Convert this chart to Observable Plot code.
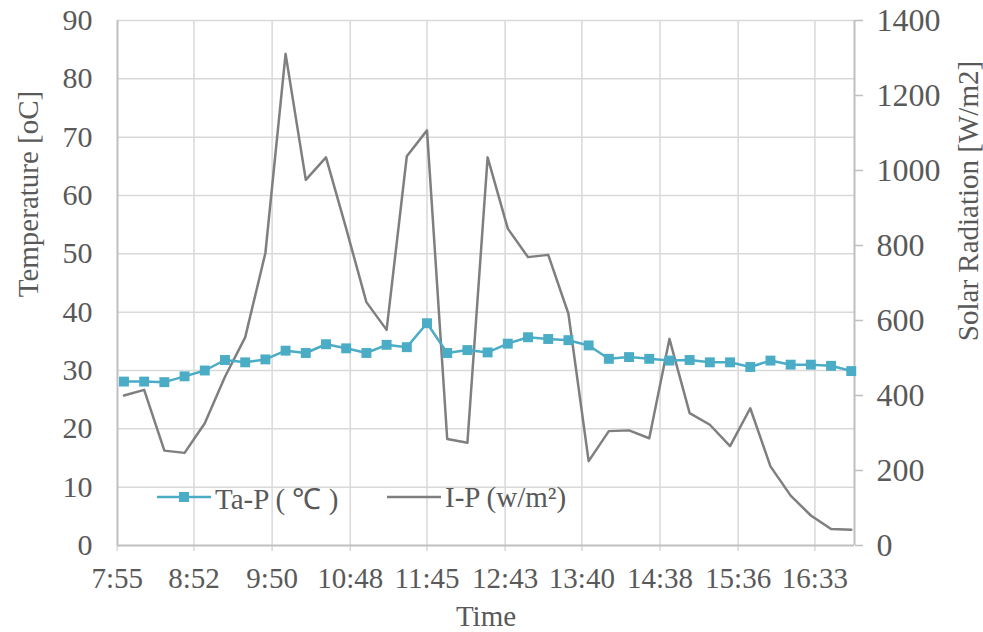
<!DOCTYPE html>
<html><head><meta charset="utf-8">
<script src="https://cdn.jsdelivr.net/npm/d3@7"></script>
<script src="https://cdn.jsdelivr.net/npm/@observablehq/plot@0.6"></script>
<style>
body{margin:0;background:#fff;}
#wrap{position:relative;width:983px;height:632px;overflow:hidden;}
#legend{position:absolute;left:0;top:0;font-family:"Liberation Serif",serif;color:#595959;font-size:29px;}
.item{position:absolute;display:flex;align-items:center;height:40px;white-space:nowrap;}
.item svg{display:block;}
</style></head><body>
<div id="wrap"><div id="chart"></div><div id="legend"></div></div>
<script>
// ---- data ----
const times = ["8:00","8:15","8:30","8:45","9:00","9:15","9:30","9:45","10:00","10:15","10:30","10:45","11:00","11:15","11:30","11:45","12:00","12:15","12:30","12:45","13:00","13:15","13:30","13:45","14:00","14:15","14:30","14:45","15:00","15:15","15:30","15:45","16:00","16:15","16:30","16:45","17:00"];
const taP = [28.1,28.1,28.0,29.0,30.0,31.8,31.4,31.9,33.4,33.0,34.5,33.8,33.0,34.4,34.0,38.1,33.0,33.5,33.1,34.6,35.7,35.4,35.2,34.3,32.0,32.3,32.0,31.7,31.8,31.4,31.4,30.6,31.7,31.0,31.0,30.8,29.9];
const ipP = [400,415,253,247,326,450,555,780,1311,975,1035,845,649,575,1038,1107,284,274,1035,845,769,775,618,225,305,307,286,551,353,322,265,366,211,133,80,44,42];
const xTickLabels = ["7:55","8:52","9:50","10:48","11:45","12:43","13:40","14:38","15:36","16:33"];
const leftTicks = [0,10,20,30,40,50,60,70,80,90];
const rightTicks = [0,200,400,600,800,1000,1200,1400];
const seriesNames = ["Ta-P ( ℃ )", "I-P (w/m²)"];

// ---- helpers ----
const toMin = s => { const [h, m] = s.split(":").map(Number); return h * 60 + m; };
const rows = times.map((t, i) => ({t: toMin(t), ta: taP[i], ip: ipP[i]}));
const xTickVals = xTickLabels.map(toMin);
const labelOf = new Map(xTickVals.map((v, i) => [v, xTickLabels[i]]));
const xDomain = [475.2, 1022.4];
const y2 = d3.scaleLinear([0, 1400], [0, 90]);

const TA = "#4BACC6", IP = "#7F7F7F", GRID = "#D9D9D9", AXIS = "#BFBFBF";

const chart = Plot.plot({
  width: 983, height: 632,
  marginLeft: 117, marginRight: 129, marginTop: 20, marginBottom: 87,
  style: {fontFamily: "Liberation Serif, serif", color: "#595959", background: "#fff"},
  x: {type: "linear", domain: xDomain},
  y: {domain: [0, 90]},
  marks: [
    Plot.gridY(leftTicks.slice(1), {stroke: GRID, strokeOpacity: 1, strokeWidth: 1.5}),
    Plot.gridX(xTickVals.slice(1), {stroke: GRID, strokeOpacity: 1, strokeWidth: 1.5}),
    Plot.axisX(xTickVals, {tickSize: 6, tickPadding: 16, stroke: GRID, strokeWidth: 1.5, fontSize: 29, tickFormat: d => labelOf.get(d), label: null}),
    Plot.axisY(leftTicks, {anchor: "left", tickSize: 0, tickPadding: 25, fontSize: 30, label: null}),
    Plot.axisY(rightTicks, {anchor: "right", y: d => y2(d), tickSize: 8, tickPadding: 14, stroke: AXIS, strokeWidth: 1.5, fontSize: 32, tickFormat: d => String(d), label: null}),
    Plot.ruleY([0], {stroke: AXIS, strokeWidth: 2}),
    Plot.ruleX(xDomain, {stroke: AXIS, strokeWidth: 2}),
    Plot.line(rows, {x: "t", y: d => y2(d.ip), stroke: IP, strokeWidth: 2.5}),
    Plot.line(rows, {x: "t", y: "ta", stroke: TA, strokeWidth: 2.5}),
    Plot.dot(rows, {x: "t", y: "ta", symbol: "square", r: 5.6, fill: TA, stroke: "none"}),
    Plot.text(["Time"], {frameAnchor: "bottom", dy: 71, fontSize: 29, lineAnchor: "middle", textAnchor: "middle"}),
    Plot.text(["Temperature [oC]"], {frameAnchor: "left", rotate: -90, dx: -89, dy: -89, fontSize: 29, lineAnchor: "middle", textAnchor: "middle"}),
    Plot.text(["Solar Radiation [W/m2]"], {frameAnchor: "right", rotate: -90, dx: 114, dy: -82, fontSize: 29, lineAnchor: "middle", textAnchor: "middle"})
  ]
});
document.getElementById("chart").appendChild(chart);

// ---- legend (inside plot area) ----
const legend = document.getElementById("legend");
const items = [
  {name: seriesNames[0], color: TA, marker: true, left: 157},
  {name: seriesNames[1], color: IP, marker: false, left: 387}
];
for (const it of items) {
  const div = document.createElement("div");
  div.className = "item";
  div.style.left = it.left + "px";
  div.style.top = "477px";
  div.innerHTML = `<svg width="54" height="20"><line x1="0" x2="54" y1="10" y2="10" stroke="${it.color}" stroke-width="2.5"/>${it.marker ? `<rect x="22" y="5" width="10" height="10" fill="${it.color}"/>` : ""}</svg><span style="margin-left:4px">${it.name}</span>`;
  legend.appendChild(div);
}
</script>
</body></html>
